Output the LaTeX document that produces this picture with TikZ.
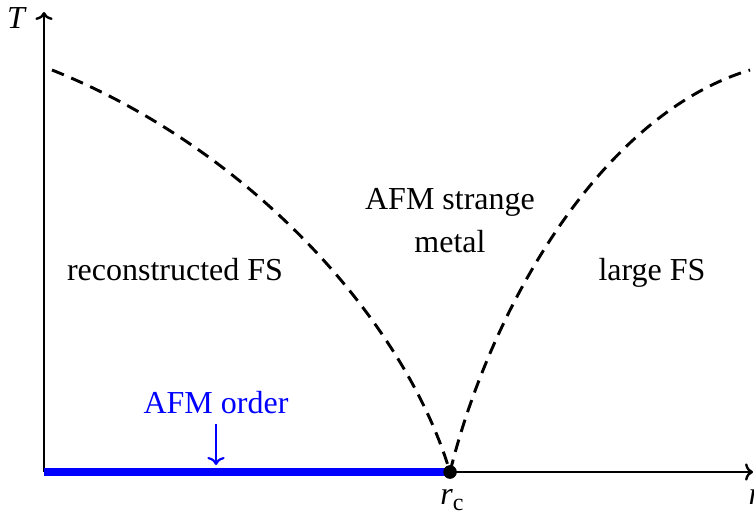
\documentclass[tikz,border=0pt]{standalone}
\usepackage{fontspec}
\setmainfont{Liberation Serif}
\usetikzlibrary{arrows.meta}
\tikzset{
  x=0.375pt, y=-0.375pt,
  axis/.style={line width=0.9pt, -{To[length=3pt,width=6.5pt]}},
  phase/.style={line width=1.1pt, dash pattern=on 4.8pt off 3pt},
  lbl/.style={font=\fontsize{12}{14}\selectfont, inner sep=0pt},
  ordline/.style={line width=3pt, blue},
  dotnode/.style={circle, fill=black, minimum size=5pt, inner sep=0pt},
  ptr/.style={blue, line width=0.8pt, -{To[length=3pt,width=6.5pt]}}
}
\begin{document}
\begin{tikzpicture}
\useasboundingbox (0,0) rectangle (754,514);
\coordinate (O) at (44,472);
\coordinate (ytop) at (44,12);
\coordinate (xend) at (753,472);
\coordinate (lt) at (52,70);
\coordinate (rt) at (750,70);
\coordinate (ptrend) at (216,465);
% axes
\draw[axis] (O) -- (ytop);
\draw[axis] (O) -- (xend);
% critical point
\node[dotnode] (rc) at (450,472) {};
% blue order line
\draw[ordline] (O) -- (rc.center);
\node[dotnode] at (rc) {};
% phase boundaries
\draw[phase] (lt) .. controls (252,150) and (405,322) .. (rc.center);
\draw[phase] (rc.center) .. controls (490,310) and (600,115) .. (rt);
% labels
\node[lbl] (T) at (17,18) {\textit{T}};
\node[lbl] (rlab) at (755,497) {\textit{r}};
\node[lbl] (rclab) at (452,500) {\textit{r}\raisebox{-0.45ex}{\fontsize{9}{10}\selectfont c}};
\node[lbl, anchor=base] (recon) at (175,280) {reconstructed FS};
\node[lbl, anchor=base] (afm1) at (450,209) {AFM strange};
\node[lbl, anchor=base] (afm2) at (450,252) {metal};
\node[lbl, anchor=base] (large) at (652,280) {large FS};
\node[lbl, anchor=base, text=blue] (afmord) at (216,413) {AFM order};
\draw[ptr] (216,424) -- (ptrend);
\end{tikzpicture}
\end{document}
